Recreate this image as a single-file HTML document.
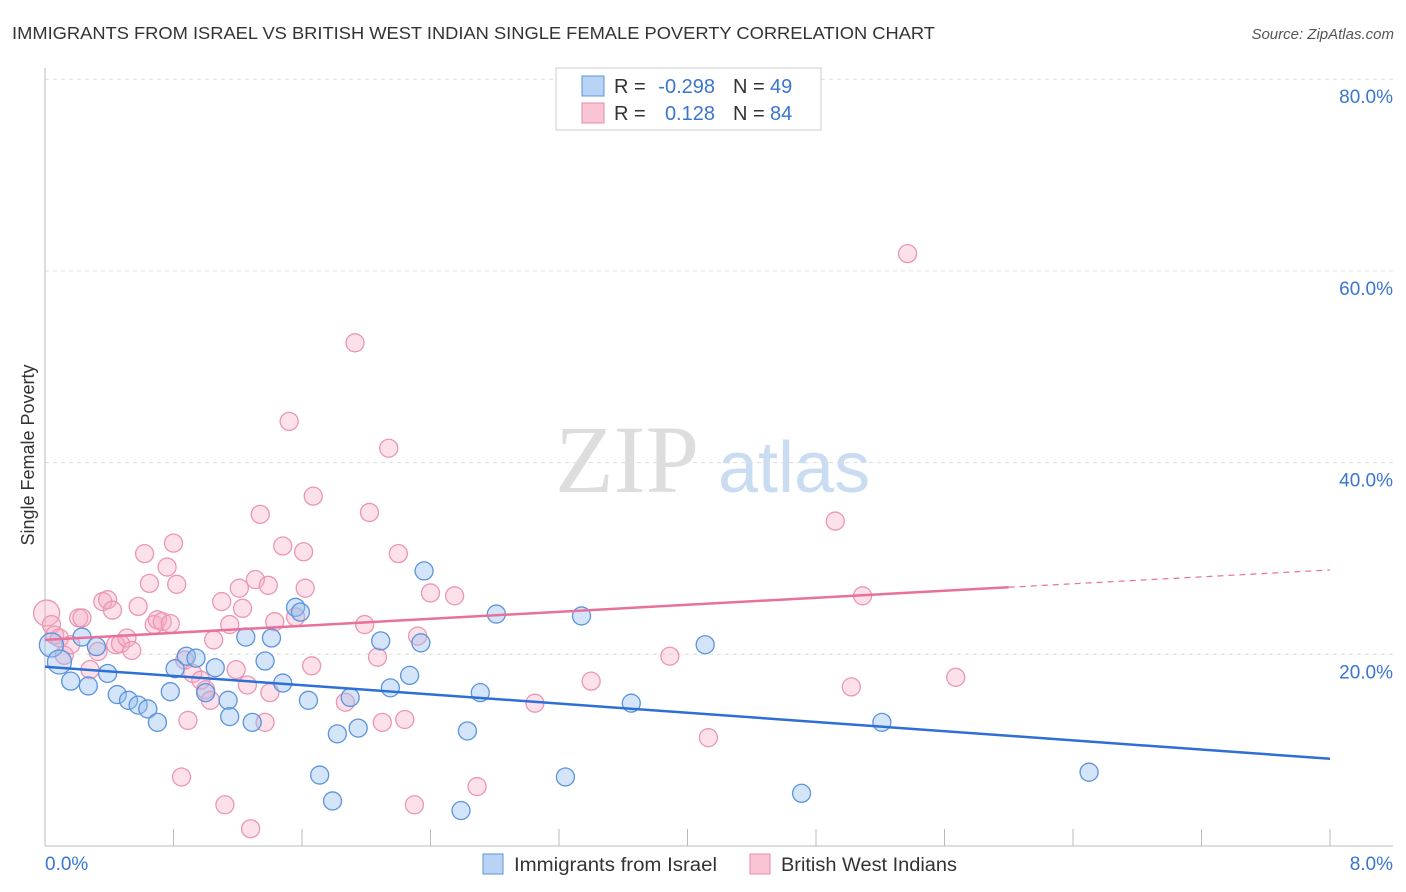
<!DOCTYPE html>
<html><head><meta charset="utf-8"><style>
body{margin:0;background:#fff;font-family:"Liberation Sans",sans-serif;}
</style></head><body>
<svg id="c" width="1406" height="892" xmlns="http://www.w3.org/2000/svg" style="display:block">
<text x="12" y="39" font-size="17.5" fill="#333" textLength="923" lengthAdjust="spacingAndGlyphs">IMMIGRANTS FROM ISRAEL VS BRITISH WEST INDIAN SINGLE FEMALE POVERTY CORRELATION CHART</text>
<text x="1394" y="39" font-size="15" fill="#555" font-style="italic" text-anchor="end">Source: ZipAtlas.com</text>
<g>
<text x="555" y="492" font-family="Liberation Serif,serif" font-size="96" fill="#ddd">ZIP</text>
<text x="718" y="492" font-size="72" fill="#c9dcf2">atlas</text>
</g>
<g id="grid"></g>
<g id="axes"></g>
<g id="pts"></g>
<g id="lines"></g>
<text transform="translate(34,455) rotate(-90)" font-size="18" fill="#333" text-anchor="middle">Single Female Poverty</text>
<g>
<rect x="556" y="68" width="265" height="62" fill="#fff" stroke="#ccc"/>
<rect x="582" y="76" width="22" height="20" fill="#b9d3f5" stroke="#5b93dc"/>
<rect x="582" y="103" width="22" height="20" fill="#f9c4d4" stroke="#e88aa8"/>
<text y="93" font-size="20" fill="#333"><tspan x="614">R =</tspan><tspan x="715" text-anchor="end" fill="#3a75d0">-0.298</tspan><tspan x="733">N =</tspan><tspan x="770" fill="#3a75d0">49</tspan></text>
<text y="120" font-size="20" fill="#333"><tspan x="614">R =</tspan><tspan x="715" text-anchor="end" fill="#3a75d0">0.128</tspan><tspan x="733">N =</tspan><tspan x="770" fill="#3a75d0">84</tspan></text>
</g>
<g>
<rect x="483" y="854" width="20" height="20" fill="#b9d3f5" stroke="#5b93dc"/>
<text x="514" y="871" font-size="19" fill="#333" textLength="203" lengthAdjust="spacingAndGlyphs">Immigrants from Israel</text>
<rect x="750" y="854" width="20" height="20" fill="#f9c4d4" stroke="#e88aa8"/>
<text x="781" y="871" font-size="19" fill="#333" textLength="176" lengthAdjust="spacingAndGlyphs">British West Indians</text>
</g>
</svg>
<script>
const blueX=[0.04,0.09,0.16,0.23,0.27,0.32,0.39,0.45,0.52,0.58,0.64,0.70,0.78,0.81,0.88,0.94,1.00,1.06,1.14,1.15,1.25,1.29,1.37,1.41,1.48,1.56,1.59,1.64,1.71,1.79,1.82,1.90,1.95,2.09,2.15,2.27,2.34,2.36,2.59,2.63,2.71,2.81,3.24,3.34,3.65,4.11,4.71,5.21,6.50];
const blueY=[20.97,19.2,17.2,21.8,16.7,20.8,18.0,15.8,15.2,14.7,14.3,12.9,16.1,18.5,19.8,19.6,16.0,18.6,15.2,13.5,21.8,12.9,19.3,21.7,17.0,24.9,24.4,15.2,7.4,4.7,11.7,15.5,12.3,21.4,16.5,17.8,21.2,28.7,3.7,12.0,16.0,24.2,7.2,24.0,14.9,21.0,5.5,12.9,7.7];
const pinkX=[0.01,0.04,0.06,0.09,0.12,0.16,0.21,0.23,0.28,0.33,0.36,0.39,0.42,0.44,0.47,0.51,0.54,0.58,0.62,0.65,0.68,0.70,0.73,0.76,0.78,0.80,0.82,0.85,0.87,0.89,0.92,0.97,1.00,1.03,1.05,1.10,1.12,1.15,1.19,1.21,1.23,1.28,1.26,1.31,1.34,1.37,1.39,1.40,1.43,1.48,1.52,1.56,1.61,1.62,1.66,1.67,1.93,1.87,1.99,2.02,2.07,2.10,2.14,2.20,2.24,2.30,2.32,2.40,2.55,2.69,3.05,3.40,3.89,4.13,4.92,5.02,5.09,5.37,5.67];
const pinkY=[24.3,23.1,22.0,21.7,19.9,21.0,23.8,23.8,18.4,20.3,25.5,25.7,24.6,21.0,21.1,21.7,20.4,25.0,30.5,27.4,23.1,23.6,23.4,29.1,23.2,31.6,27.3,7.2,19.4,13.1,18.0,17.3,16.3,15.2,21.5,25.5,4.3,23.1,18.4,26.9,24.8,1.8,16.8,27.8,34.6,12.9,27.2,16.0,23.4,31.3,44.3,23.9,30.7,26.9,18.8,36.5,52.5,15.0,23.1,34.8,19.7,12.9,41.5,30.5,13.2,4.3,21.9,26.4,26.1,6.2,14.9,17.2,19.8,11.3,33.9,16.6,26.1,61.8,17.6];
const blueTrend=[18.7,9.1];
const pinkTrend=[21.5,27.0,28.8];
const yTicks=[20,40,60,80];
const yTickLabels=["20.0%","40.0%","60.0%","80.0%"];
const NS="http://www.w3.org/2000/svg";
const sx=v=>45+v/8*1285, sy=v=>846-v/20*191.7;
function mk(p,t,a){const e=document.createElementNS(NS,t);for(const k in a)e.setAttribute(k,a[k]);p.appendChild(e);return e;}
const grid=document.getElementById('grid'),axes=document.getElementById('axes'),pts=document.getElementById('pts'),lines=document.getElementById('lines');
yTicks.forEach((v,i)=>{
 const l=mk(grid,'line',{x1:45,x2:1393,y1:sy(v),y2:sy(v),stroke:'#ddd','stroke-dasharray':'4,4'});
 
 
 const t=mk(axes,'text',{x:1393,y:sy(v)+24,'font-size':19,fill:'#3a75d0','text-anchor':'end'});
 t.textContent=yTickLabels[i];
 
 
});
mk(axes,'line',{x1:45,x2:45,y1:68,y2:846,stroke:'#bbb'});
mk(axes,'line',{x1:45,x2:1393,y1:846,y2:846,stroke:'#bbb'});
for(let i=0;i<=10;i++){const x=sx(i*0.8);const tk=mk(axes,'line',{x1:x,x2:x,y1:829,y2:846,stroke:'#bbb'});}
const x0=mk(axes,'text',{x:45,y:870,'font-size':19,fill:'#3a75d0'});x0.textContent='0.0%';


const x1=mk(axes,'text',{x:1393,y:870,'font-size':19,fill:'#3a75d0','text-anchor':'end'});x1.textContent='8.0%';


pinkX.forEach((x,i)=>{const c=mk(pts,'circle',{cx:sx(x),cy:sy(pinkY[i]),r:i==0?13:9,fill:'rgba(245,170,195,0.35)',stroke:'#eb96b2','stroke-width':1.3});
 
 });
blueX.forEach((x,i)=>{const c=mk(pts,'circle',{cx:sx(x),cy:sy(blueY[i]),r:i<2?12:9,fill:'rgba(150,190,240,0.4)',stroke:'#5b93dc','stroke-width':1.3});
 
 });
const bl=mk(lines,'line',{x1:sx(0),y1:sy(blueTrend[0]),x2:sx(8),y2:sy(blueTrend[1]),stroke:'#2d6fd6','stroke-width':2.5});


const pl=mk(lines,'line',{x1:sx(0),y1:sy(pinkTrend[0]),x2:sx(6),y2:sy(pinkTrend[1]),stroke:'#e8709a','stroke-width':2.5});


const pd=mk(lines,'line',{x1:sx(6),y1:sy(pinkTrend[1]),x2:sx(8),y2:sy(pinkTrend[2]),stroke:'#e8709a','stroke-width':1.2,'stroke-dasharray':'6,5'});


</script>
</body></html>
